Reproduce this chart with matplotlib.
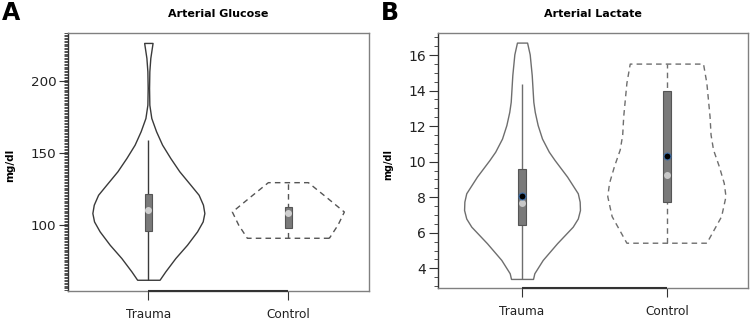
import matplotlib
matplotlib.use("Agg")
import matplotlib.pyplot as plt
from matplotlib.ticker import MultipleLocator
import matplotlib.transforms as mtransforms

plt.rcParams['font.family'] = ['DejaVu Sans']

categories = ["Trauma", "Control"]

# ---- Panel A: Arterial Glucose (mg/dl) ----
glu_trauma_levels = [62.0, 67.8, 77.1, 86.3, 95.6, 102.5, 108.3, 114.1, 121.0, 128.0,
                     137.3, 146.5, 155.8, 165.1, 174.3, 183.5, 195.1, 206.7, 216.0, 226.4]
glu_trauma_halfw = [0.080, 0.121, 0.193, 0.276, 0.348, 0.388, 0.400, 0.390, 0.359, 0.300,
                    0.221, 0.157, 0.098, 0.055, 0.021, 0.007, 0.005, 0.007, 0.014, 0.030]
glu_control_levels = [90.8, 100, 109, 119, 129.4]
glu_control_halfw = [0.293, 0.355, 0.40, 0.275, 0.143]
# whisker low, q1, median, q3, whisker high
glu_box = {"Trauma": [62.0, 95.8, 110.4, 121.3, 159.0],
           "Control": [90.8, 97.7, 108.0, 112.7, 129.4]}

# ---- Panel B: Arterial Lactate (mg/dl) ----
lac_trauma_levels = [3.4, 3.72, 4.47, 5.41, 6.34, 6.8, 7.28, 7.75, 8.22, 9.16, 10.09, 10.56,
                     11.3, 12.06, 12.8, 13.37, 14.87, 16.04, 16.7]
lac_trauma_halfw = [0.076, 0.085, 0.143, 0.242, 0.35, 0.385, 0.40, 0.398, 0.385, 0.311, 0.225,
                    0.185, 0.138, 0.108, 0.088, 0.078, 0.067, 0.053, 0.035]
lac_control_levels = [5.41, 6.16, 6.91, 8.03, 8.78, 9.72, 10.66, 11.5, 12.53, 14.41, 15.49]
lac_control_halfw = [0.276, 0.327, 0.378, 0.408, 0.396, 0.362, 0.322, 0.305, 0.298, 0.276, 0.253]
lac_box = {"Trauma": [3.4, 6.42, 7.69, 9.57, 14.35],
           "Control": [5.41, 7.75, 9.25, 13.97, 15.49]}
lac_mean = {"Trauma": 8.09, "Control": 10.32}

fig = plt.figure(figsize=(7.56, 3.24), dpi=100)
axA = fig.add_axes([68/756, 33/324, 301/756, 258/324])
axB = fig.add_axes([438/756, 36/324, 310/756, 255/324])


def violin(ax, pos, levels, halfw, color, ls):
    left = [pos - h for h in halfw]
    right = [pos + h for h in halfw]
    ax.fill_betweenx(levels, left, right, facecolor='white', edgecolor=color,
                     linewidth=1.0, linestyle=ls, joinstyle='round', zorder=2)


def boxpart(ax, pos, stats, color, ls, bw, med_color, mean=None):
    lo, q1, med, q3, hi = stats
    ax.vlines(pos, lo, hi, colors=color, linewidth=1.0, linestyles=ls, zorder=3)
    ax.bar(pos, q3 - q1, bottom=q1, width=bw, color='#7a7a7a', edgecolor='#555555',
           linewidth=0.8, zorder=4)
    ax.plot(pos, med, 'o', color=med_color, markersize=5, markeredgewidth=0, zorder=5)
    if mean is not None:
        ax.plot(pos, mean, 'o', color='black', markersize=5, markeredgecolor='#3f6fa8',
                markeredgewidth=0.8, zorder=6)


# Panel A
violin(axA, 1, glu_trauma_levels, glu_trauma_halfw, '#3a3a3a', '-')
violin(axA, 2, glu_control_levels, glu_control_halfw, '#555555', (0, (4, 3)))
boxpart(axA, 1, glu_box["Trauma"], '#3a3a3a', '-', 0.053, '#cfcfcf')
boxpart(axA, 2, glu_box["Control"], '#555555', (0, (4, 3)), 0.053, '#cfcfcf')
axA.set_xlim(0.426, 2.576)
axA.set_ylim(54.2, 233.3)
axA.yaxis.set_major_locator(MultipleLocator(50))
axA.yaxis.set_minor_locator(MultipleLocator(1))

# Panel B
violin(axB, 1, lac_trauma_levels, lac_trauma_halfw, '#6e6e6e', '-')
violin(axB, 2, lac_control_levels, lac_control_halfw, '#6e6e6e', (0, (4, 3)))
boxpart(axB, 1, lac_box["Trauma"], '#6e6e6e', '-', 0.057, '#c8c8c8', lac_mean["Trauma"])
boxpart(axB, 2, lac_box["Control"], '#6e6e6e', (0, (4, 3)), 0.057, '#c8c8c8', lac_mean["Control"])
axB.set_xlim(0.42, 2.56)
axB.set_ylim(2.89, 17.24)
axB.yaxis.set_major_locator(MultipleLocator(2))
axB.yaxis.set_minor_locator(MultipleLocator(0.5))

for ax, title, ylab, ylsize, ytsize, labx in [
        (axA, "Arterial Glucose", "mg/dl", 7.5, 9.7, -0.176),
        (axB, "Arterial Lactate", "mg/dl", 7, 10, -0.145)]:
    ax.set_xticks([1, 2])
    ax.set_xticklabels(categories)
    ax.set_title(title, fontsize=8, fontweight='bold', pad=11.5)
    ax.set_ylabel(ylab, fontsize=ylsize, fontweight='bold')
    ax.yaxis.set_label_coords(labx, 0.486)
    for s in ax.spines.values():
        s.set_color('#808080')
        s.set_linewidth(1.0)
    ax.spines['left'].set_color('#333333')
    ax.tick_params(axis='y', which='major', length=6.5, width=0.8, color='#333333',
                   labelsize=ytsize, pad=2, labelcolor='#222222')
    ax.tick_params(axis='y', which='minor', length=3, width=0.6, color='#333333')
    ax.tick_params(axis='x', which='major', length=6.5, width=0.8, color='#333333',
                   labelsize=8.7, pad=6, labelcolor='#222222')
    trans = mtransforms.blended_transform_factory(ax.transData, ax.transAxes)
    ax.plot([1, 2], [0, 0], color='#333333', linewidth=1.5, transform=trans,
            clip_on=False, zorder=10, solid_capstyle='butt')

fig.text(2/756, 1 - 20/324, "A", fontsize=17, fontweight='bold', va='baseline')
fig.text(381/756, 1 - 20/324, "B", fontsize=17, fontweight='bold', va='baseline')

fig.savefig("out.png", dpi=100)
